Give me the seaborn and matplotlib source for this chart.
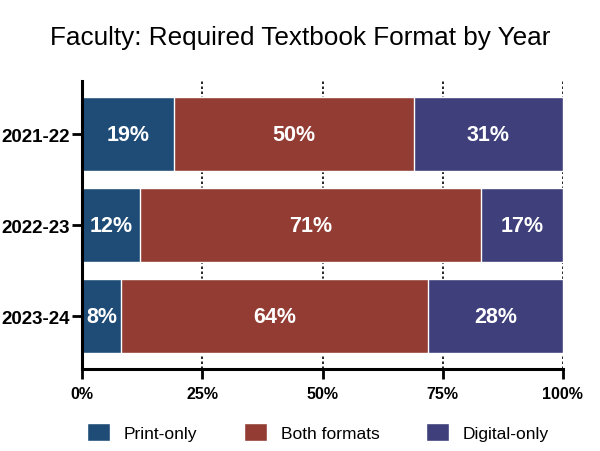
import pandas as pd
import seaborn as sns
import matplotlib.pyplot as plt
from matplotlib.patches import Patch

years = ["2021-22", "2022-23", "2023-24"]
print_only = [19, 12, 8]
both_formats = [50, 71, 64]
digital_only = [31, 17, 28]

series = ["Print-only", "Both formats", "Digital-only"]
colors = ["#1E4C77", "#923C34", "#3E3F7B"]

sns.set_style("white")
plt.rcParams['font.family'] = ['Liberation Sans Narrow', 'Liberation Sans', 'DejaVu Sans']
plt.rcParams['text.color'] = 'black'
plt.rcParams['xtick.color'] = 'black'
plt.rcParams['ytick.color'] = 'black'

df = pd.DataFrame({"year": years, "Print-only": print_only,
                   "Both formats": both_formats, "Digital-only": digital_only})
df["c1"] = df["Print-only"]
df["c2"] = df["c1"] + df["Both formats"]
df["c3"] = df["c2"] + df["Digital-only"]

fig, ax = plt.subplots(figsize=(6, 4.52), dpi=100)
fig.subplots_adjust(left=0.137, right=0.938, top=0.818, bottom=0.181)

ax.set_axisbelow(True)
for x in [25, 50, 75, 100]:
    ax.axvline(x, color="black", ls=(0, (1.5, 1.5)), lw=1.2, zorder=0)

for col, c in zip(["c3", "c2", "c1"], colors[::-1]):
    sns.barplot(data=df, x=col, y="year", color=c, width=0.81,
                edgecolor="white", linewidth=1, ax=ax, zorder=2, saturation=1)

# segment labels
for i in range(len(years)):
    starts = [0, df["c1"][i], df["c2"][i]]
    for s, v in zip(starts, [print_only[i], both_formats[i], digital_only[i]]):
        ax.text(s + v / 2, i, f"{v}%", color="white", fontsize=15.5,
                fontweight="bold", ha="center", va="center", zorder=3)

ax.set_xlim(0, 100)
ax.set_ylim(2.58, -0.58)
ax.set_xticks([0, 25, 50, 75, 100])
ax.set_xticklabels(["0%", "25%", "50%", "75%", "100%"])
ax.set_xlabel("")
ax.set_ylabel("")
ax.tick_params(axis="x", length=7, width=2, labelsize=11.5, pad=5)
ax.tick_params(axis="y", length=7, width=2, labelsize=13.5, pad=2)
for lab in ax.get_xticklabels() + ax.get_yticklabels():
    lab.set_fontweight("bold")
ax.xaxis.set_ticks_position("bottom")
ax.yaxis.set_ticks_position("left")
ax.tick_params(direction="out")

for s in ["top", "right"]:
    ax.spines[s].set_visible(False)
for s in ["left", "bottom"]:
    ax.spines[s].set_linewidth(2.2)
    ax.spines[s].set_color("black")

fig.suptitle("Faculty: Required Textbook Format by Year", fontsize=18.8,
             x=0.5, y=0.915, va="center", family=['Liberation Sans', 'DejaVu Sans'])

handles = [Patch(facecolor=c, label=l) for c, l in zip(colors, series)]
fig.legend(handles=handles, loc="center", ncol=3, frameon=False,
           fontsize=12.5, bbox_to_anchor=(0.53, 0.042), handlelength=1.3,
           handleheight=1.3, columnspacing=2.7, handletextpad=0.8)

fig.savefig("out.png", dpi=100)
